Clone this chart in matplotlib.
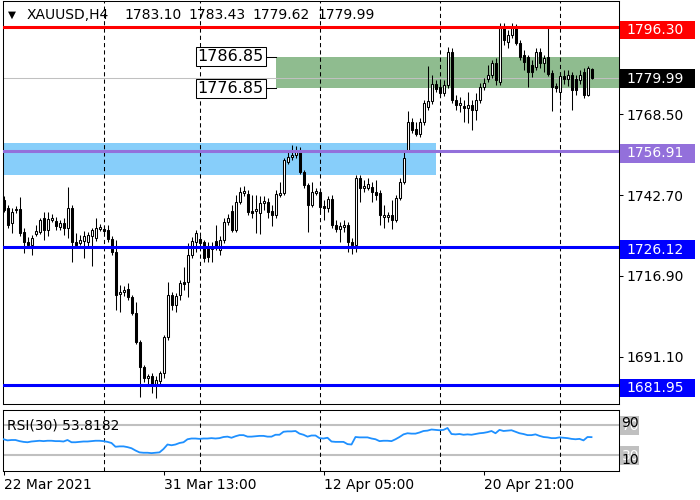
import matplotlib
matplotlib.use("Agg")
import matplotlib.pyplot as plt
from matplotlib.patches import Rectangle
from matplotlib.transforms import blended_transform_factory

# H4 candles (oldest first)
opens = [1741.1, 1738.6, 1733.8, 1738.0, 1738.3, 1730.9, 1727.7, 1726.8, 1730.2, 1730.9,
         1735.4, 1731.5, 1734.7, 1734.4, 1732.5, 1733.8, 1732.2, 1738.6, 1727.7, 1727.4,
         1728.1, 1727.7, 1729.6, 1729.0, 1731.8, 1731.8, 1731.5, 1728.7, 1724.5, 1711.0,
         1711.7, 1712.7, 1710.1, 1705.0, 1695.8, 1687.9, 1684.3, 1685.0, 1682.4, 1683.3,
         1685.9, 1697.5, 1710.7, 1707.6, 1710.7, 1714.9, 1714.9, 1723.5, 1727.7, 1728.7,
         1727.7, 1725.8, 1725.5, 1728.1, 1725.2, 1728.4, 1734.1, 1737.7, 1731.5, 1740.5,
         1743.4, 1743.0, 1737.7, 1737.7, 1737.0, 1740.1, 1740.5, 1737.7, 1736.4, 1742.7,
         1743.4, 1753.3, 1754.9, 1755.5, 1756.5, 1750.0, 1745.9, 1739.5, 1743.4, 1743.7,
         1739.3, 1738.6, 1741.4, 1733.1, 1731.8, 1732.5, 1733.1, 1727.7, 1726.8, 1748.2,
         1745.0, 1745.0, 1745.3, 1743.7, 1743.4, 1735.7, 1735.7, 1736.4, 1734.7, 1741.8,
         1746.9, 1757.2, 1766.0, 1763.7, 1762.1, 1766.0, 1770.7, 1772.7, 1778.2, 1777.2,
         1775.3, 1777.8, 1788.4, 1773.0, 1771.4, 1771.1, 1770.4, 1771.4, 1769.8, 1773.0,
         1777.2, 1779.7, 1781.0, 1784.9, 1778.8, 1796.1, 1791.5, 1793.8, 1796.1, 1791.2,
         1787.4, 1786.8, 1784.2, 1783.6, 1788.4, 1784.9, 1786.8, 1781.6, 1777.5, 1775.6,
         1780.7, 1779.7, 1781.0, 1779.7, 1779.4, 1781.9, 1774.6, 1783.10]
highs = [1742.4, 1739.5, 1738.6, 1739.3, 1742.1, 1732.2, 1729.4, 1729.9, 1733.1, 1735.4,
         1737.3, 1737.3, 1736.7, 1735.7, 1734.7, 1735.4, 1745.3, 1739.5, 1730.5, 1729.9,
         1731.2, 1730.9, 1732.2, 1735.4, 1733.5, 1732.8, 1733.1, 1729.6, 1728.4, 1713.9,
         1713.6, 1714.6, 1710.7, 1708.6, 1696.5, 1688.5, 1685.6, 1685.9, 1685.0, 1686.6,
         1698.1, 1715.0, 1711.7, 1711.4, 1715.6, 1719.7, 1727.4, 1729.4, 1731.5, 1729.6,
         1728.4, 1727.7, 1727.7, 1733.1, 1729.6, 1735.4, 1736.7, 1739.5, 1742.7, 1745.3,
         1745.6, 1744.3, 1742.7, 1742.7, 1742.4, 1742.4, 1741.8, 1739.5, 1744.3, 1746.9,
         1754.6, 1756.5, 1758.8, 1758.4, 1758.1, 1750.7, 1746.6, 1746.9, 1745.0, 1745.0,
         1741.1, 1742.4, 1742.7, 1734.7, 1734.1, 1734.7, 1734.1, 1729.0, 1749.2, 1749.2,
         1747.6, 1748.2, 1746.9, 1747.6, 1744.3, 1739.5, 1737.3, 1741.1, 1742.7, 1748.2,
         1757.2, 1769.5, 1767.3, 1766.0, 1767.3, 1773.0, 1783.9, 1781.0, 1779.4, 1778.8,
         1779.4, 1789.9, 1789.6, 1774.6, 1774.0, 1773.0, 1775.6, 1773.0, 1775.3, 1778.5,
         1780.0, 1784.2, 1785.8, 1786.5, 1797.7, 1797.7, 1795.4, 1797.7, 1797.3, 1792.2,
         1789.0, 1787.4, 1785.8, 1789.6, 1789.6, 1787.4, 1796.1, 1782.6, 1778.5, 1781.9,
         1782.6, 1782.6, 1781.9, 1781.0, 1782.6, 1783.2, 1783.9, 1783.43]
lows = [1737.3, 1732.2, 1730.5, 1737.0, 1729.6, 1724.2, 1725.8, 1723.5, 1729.6, 1730.2,
        1728.4, 1729.6, 1734.1, 1731.5, 1731.5, 1729.9, 1729.0, 1721.3, 1725.8, 1726.8,
        1722.6, 1726.4, 1720.0, 1728.1, 1731.2, 1730.2, 1727.7, 1723.5, 1706.0, 1705.3,
        1710.4, 1709.2, 1704.4, 1695.2, 1678.2, 1683.0, 1682.4, 1679.5, 1677.9, 1682.4,
        1684.3, 1696.5, 1706.0, 1705.3, 1709.2, 1712.3, 1710.1, 1722.6, 1724.5, 1725.8,
        1721.3, 1721.3, 1721.3, 1725.2, 1723.5, 1727.4, 1733.1, 1730.9, 1730.9, 1739.8,
        1742.4, 1736.4, 1735.4, 1730.5, 1730.2, 1738.0, 1735.4, 1732.8, 1735.4, 1742.1,
        1742.7, 1752.6, 1753.9, 1754.6, 1749.4, 1745.0, 1730.9, 1738.9, 1742.7, 1737.0,
        1734.7, 1737.3, 1732.2, 1730.9, 1727.7, 1730.9, 1724.5, 1723.9, 1724.5, 1740.5,
        1743.7, 1744.3, 1740.5, 1741.1, 1733.1, 1732.2, 1734.1, 1731.8, 1734.1, 1741.1,
        1746.3, 1756.5, 1762.4, 1761.5, 1761.2, 1765.0, 1769.8, 1771.7, 1775.6, 1774.0,
        1774.3, 1776.9, 1772.0, 1769.8, 1769.1, 1766.0, 1765.7, 1763.4, 1766.6, 1772.0,
        1776.2, 1778.8, 1780.0, 1777.8, 1777.8, 1790.6, 1789.6, 1792.8, 1790.6, 1785.8,
        1782.6, 1777.2, 1780.3, 1782.6, 1783.2, 1781.9, 1780.7, 1769.5, 1775.6, 1773.0,
        1778.2, 1777.5, 1769.8, 1774.6, 1778.2, 1773.6, 1774.3, 1779.62]
closes = [1738.0, 1733.1, 1737.3, 1738.3, 1730.5, 1727.7, 1726.8, 1729.0, 1731.2, 1734.7,
          1731.5, 1735.1, 1735.4, 1732.8, 1733.8, 1732.2, 1738.6, 1727.7, 1726.8, 1728.4,
          1729.6, 1729.9, 1731.5, 1732.2, 1732.5, 1731.2, 1728.7, 1724.5, 1710.7, 1711.7,
          1712.3, 1710.1, 1705.0, 1695.8, 1687.9, 1684.3, 1685.0, 1682.4, 1683.7, 1685.9,
          1697.5, 1710.7, 1707.6, 1710.4, 1714.6, 1714.3, 1723.5, 1728.1, 1730.5, 1727.4,
          1722.6, 1722.9, 1726.1, 1725.8, 1728.4, 1734.1, 1735.4, 1731.5, 1740.5, 1743.7,
          1744.0, 1737.3, 1737.0, 1738.3, 1740.1, 1740.8, 1737.3, 1736.4, 1743.0, 1743.4,
          1753.9, 1754.9, 1755.5, 1756.5, 1750.0, 1745.9, 1739.5, 1743.7, 1744.0, 1738.9,
          1738.6, 1741.4, 1733.1, 1731.8, 1732.8, 1733.1, 1727.7, 1726.8, 1748.2, 1745.0,
          1745.6, 1746.3, 1743.7, 1742.7, 1736.4, 1736.4, 1736.4, 1734.7, 1741.8, 1746.9,
          1754.6, 1766.0, 1763.4, 1762.1, 1766.0, 1772.0, 1772.7, 1778.2, 1776.6, 1775.3,
          1777.8, 1788.4, 1773.0, 1771.4, 1772.0, 1770.4, 1771.4, 1769.8, 1773.0, 1777.2,
          1778.5, 1781.0, 1784.9, 1779.4, 1796.1, 1792.2, 1793.8, 1796.1, 1791.2, 1786.8,
          1785.2, 1781.9, 1781.9, 1788.4, 1784.9, 1786.5, 1781.3, 1777.2, 1776.9, 1780.7,
          1779.7, 1781.0, 1776.2, 1776.2, 1781.0, 1774.6, 1783.2, 1779.99]

# RSI(30) values per bar
rsi = [51, 49.5, 50, 50, 48.5, 47.5,
       47, 48, 48.5, 49, 48.5, 49, 49, 48.5, 48.5, 48, 50,
       47, 47, 47.5, 48, 48, 48.5, 49, 49, 48.5,
       47.5, 46, 41, 41.5, 41.5, 40.5, 39,
       36, 33.5, 33, 33, 32.5, 33, 33.5, 38,
       44, 43, 44, 46, 47, 51, 52, 52,
       51.5, 52, 52, 52.5, 52, 52.5, 54, 54.5,
       53, 55, 56.5, 56.5, 54.5, 54.5, 55, 55.5, 55.5, 54.5,
       54.5, 57, 57, 61, 61.5, 61.5, 62, 58.5,
       57, 54.5, 56, 56, 52.5, 52, 53, 48,
       47.5, 47.5, 47.5, 44.5, 44, 54, 53.5, 53.5,
       53.5, 52, 51, 48.5, 49, 49, 48.5, 51, 54, 57.5,
       59, 58.5, 58.5, 60, 62, 62.5, 64, 63.5, 63, 63.5, 66,
       58, 57.5, 58, 57, 57.5, 57, 58, 59, 59.5, 60.5, 62, 59,
       63.5, 62, 62.5, 63, 61, 59, 58, 56.5, 56.5, 57.5, 55.5, 54,
       53.5, 52.5, 52.5, 53.5, 53, 52.5, 51.5, 51, 51.5, 49.5, 54, 53.8182]

symbol = "XAUUSD,H4"
grid_bars = [25, 49, 79, 109, 139]
date_bars = [0, 40, 80, 120]
date_labels = ["22 Mar 2021", "31 Mar 13:00", "12 Apr 05:00", "20 Apr 21:00"]
price_ticks = [1768.50, 1742.70, 1716.90, 1691.10]

levels = [1796.30, 1756.91, 1726.12, 1681.95]
level_colors = ["#ff0000", "#9370db", "#0000ff", "#0000ff"]
bid = closes[-1]

green_zone = (68, 1776.85, 1786.85)   # start bar, low, high
blue_zone = (108, 1749.25, 1759.25)   # end bar, low, high
rsi_levels = [70, 30]

W, H = 700, 500
fig = plt.figure(figsize=(7, 5), dpi=100)


def px_axes(x0, y0, x1, y1):
    return fig.add_axes([x0 / W, 1 - y1 / H, (x1 - x0) / W, (y1 - y0) / H])


ax = px_axes(2.5, 0.5, 618.5, 404)
rx = px_axes(2.5, 409.5, 618.5, 471)
for a in (ax, rx):
    a.set_xlim(-0.25, 153.75)
    for s in a.spines.values():
        s.set_linewidth(0.75)
        s.set_color("black")
ax.set_ylim(1675.98, 1804.83)
rx.set_ylim(8.67, 90.67)

# zones
ax.add_patch(Rectangle((green_zone[0], green_zone[1]), 200, green_zone[2] - green_zone[1],
                       fc="#8fbc8f", ec="none", zorder=1))
ax.add_patch(Rectangle((-10, blue_zone[1]), blue_zone[0] + 10, blue_zone[2] - blue_zone[1],
                       fc="#87cefa", ec="none", zorder=1))

# vertical dashed grid
for a in (ax, rx):
    for b in grid_bars:
        a.axvline(b, color="black", lw=0.75, ls=(0, (4, 3)), zorder=2)

ax.axhline(bid, color="#c0c0c0", lw=0.75, zorder=2)

# candles
for i in range(len(closes)):
    o, h, l, c = opens[i], highs[i], lows[i], closes[i]
    ax.vlines(i, l, h, color="black", lw=0.75, zorder=3)
    ax.add_patch(Rectangle((i - 0.25, min(o, c)), 0.5, max(abs(c - o), 0.3),
                           fc="white" if c >= o else "black", ec="black", lw=0.75, zorder=4))

for p, col in zip(levels, level_colors):
    ax.axhline(p, color=col, lw=2.2, zorder=5)

# zone edge labels
for p in (green_zone[2], green_zone[1]):
    ax.plot([green_zone[0] - 2.45, green_zone[0]], [p, p], color="black", lw=0.75, zorder=5)
    ax.text(green_zone[0] - 2.95, p, f"{p:.2f}", ha="right", va="center", fontsize=11.5,
            bbox=dict(boxstyle="square,pad=0.12", fc="white", ec="black", lw=0.75), zorder=6)

# right price scale
ax.yaxis.tick_right()
ax.set_yticks(price_ticks)
ax.set_yticklabels([f"{p:.2f}" for p in price_ticks])
ax.tick_params(axis="y", length=3, width=0.75, pad=2.7, labelsize=10)
ax.set_xticks([])

tr = blended_transform_factory(ax.transAxes, ax.transData)
box_h = 18.6 / 3.1316
for p, col, shift in zip(levels + [bid], level_colors + ["black"], [0.85] * 4 + [0.13]):
    yc = p - shift
    ax.add_patch(Rectangle((1.0024, yc - box_h / 2), 0.1218, box_h, transform=tr,
                           fc=col, ec="none", clip_on=False, zorder=7))
    ax.text(1.0133, yc, f"{p:.2f}", transform=tr, color="white", fontsize=10,
            ha="left", va="center", zorder=8)

# header
fig.text(8 / W, 1 - 15 / H, "\u25bc", fontsize=7.5, ha="left", va="center")
fig.text(27 / W, 1 - 15 / H, symbol, fontsize=10, ha="left", va="center")
for xp, v in zip([124, 188, 252, 317], [opens[-1], highs[-1], lows[-1], closes[-1]]):
    fig.text(xp / W, 1 - 15 / H, f"{v:.2f}", fontsize=10, ha="left", va="center")

# RSI panel
for lv in rsi_levels:
    rx.axhline(lv, color="#c0c0c0", lw=1.5, zorder=1)
rx.plot(range(len(rsi)), rsi, color="#1e90ff", lw=1.3, zorder=3)
rtr = blended_transform_factory(rx.transAxes, rx.transData)
rx.text(0.0073, 70, f"RSI(30) {rsi[-1]:.4f}", transform=rtr, fontsize=10,
        ha="left", va="center", zorder=5)
bh = 19 / 0.75
for lv in rsi_levels:
    rx.add_patch(Rectangle((1.0024, lv - bh / 2), 0.031, bh, transform=rtr,
                           fc="#c0c0c0", ec="none", clip_on=False, zorder=6))
    rx.text(1.005, lv - 1, str(lv), transform=rtr, color="white", fontsize=10,
            ha="left", va="center", zorder=7)
rx.text(1.005, 72.7, "90", transform=rtr, fontsize=10, ha="left", va="center", zorder=8)
rx.text(1.005, 22.7, "10", transform=rtr, fontsize=10, ha="left", va="center", zorder=8)

rx.set_yticks([])
rx.set_xticks(date_bars)
rx.set_xticklabels(date_labels)
for lbl in rx.get_xticklabels():
    lbl.set_horizontalalignment("left")
rx.tick_params(axis="x", length=3, width=0.75, pad=2, labelsize=10)

fig.savefig("out.png", dpi=100)
